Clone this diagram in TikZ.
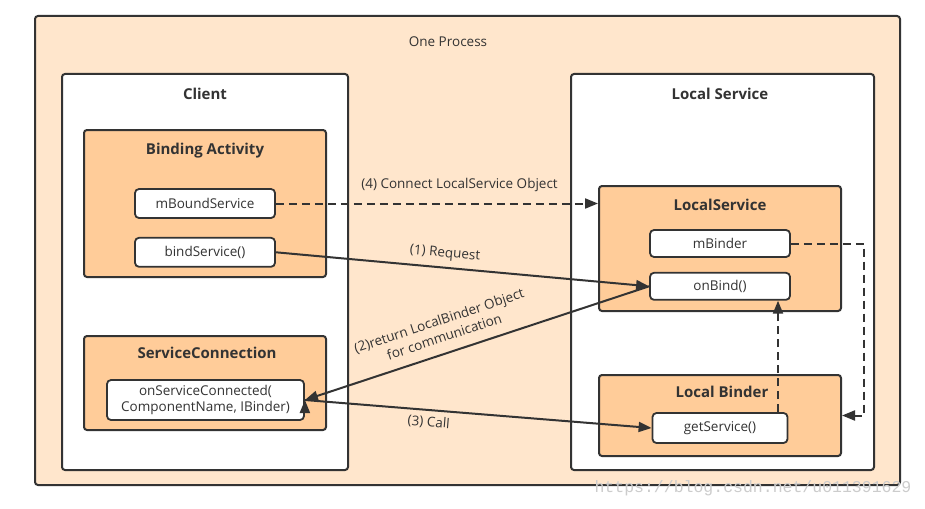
\documentclass[tikz,border=0pt]{standalone}
\usepackage{fontspec}
\setmainfont{Open Sans}
\newfontfamily\wmfont{Liberation Mono}
\usetikzlibrary{arrows.meta,positioning}

\definecolor{procfill}{HTML}{FFE6CC}
\definecolor{boxfill}{HTML}{FFCC99}
\definecolor{ink}{HTML}{333333}

\begin{document}
\begin{tikzpicture}[x=1pt,y=-1pt,>={Triangle[length=13pt,width=10pt]},color=ink,font=\fontsize{13.5}{16}\selectfont]
\tikzstyle{frame} = [rectangle, draw=ink, rounded corners=3pt, line width=2pt, inner sep=0pt]
\tikzstyle{group} = [frame, fill=boxfill]
\tikzstyle{item} = [frame, fill=white, rounded corners=4pt, line width=1.8pt, align=center]
\tikzstyle{title} = [font=\bfseries\fontsize{15}{18}\selectfont]
\tikzstyle{flow} = [->, draw=ink, line width=2pt]
\tikzstyle{back} = [flow, dash pattern=on 8pt off 5pt]
\useasboundingbox[fill=white] (0,0) rectangle (925,508);
% the process and its two parts
\node[frame, fill=procfill, minimum width=865pt, minimum height=469pt] (proc) at (467.5,250.5) {};
\node (procT) at (448,42) {One Process};
\node[frame, fill=white, minimum width=286pt, minimum height=396pt] (client) at (205,272) {};
\node[title] (clientT) at (205,94) {Client};
\node[frame, fill=white, minimum width=303pt, minimum height=396pt] (local) at (722.5,272) {};
\node[title] (localT) at (720,94) {Local Service};
% client side
\node[group, minimum width=242pt, minimum height=147pt] (binding) at (205,203.5) {};
\node[title] (bindingT) at (205,151) {Binding Activity};
\node[item, minimum width=140pt, minimum height=29pt] (mbound) at (205,203.5) {mBoundService};
\node[item, minimum width=140pt, minimum height=29pt, below=18pt of mbound] (bindsvc) {bindService()};
\node[group, minimum width=242pt, minimum height=94pt] (svcconn) at (205,383) {};
\node[title] (svcconnT) at (207,353) {ServiceConnection};
\node[item, minimum width=197pt, minimum height=40pt, font=\fontsize{13.5}{15.5}\selectfont] (onsc) at (205.5,400) {onServiceConnected(\\ComponentName, IBinder)};
% service side
\node[group, minimum width=242pt, minimum height=125pt] (lsvc) at (720,248.5) {};
\node[title] (lsvcT) at (720,205) {LocalService};
\node[item, minimum width=140pt, minimum height=27pt] (mbinder) at (720,243.5) {mBinder};
\node[item, minimum width=140pt, minimum height=27pt, below=14pt of mbinder] (onbind) {onBind()};
\node[group, minimum width=242pt, minimum height=81pt] (lbinder) at (720,415.5) {};
\node[title] (lbinderT) at (722,392) {Local Binder};
\node[item, minimum width=135pt, minimum height=30pt] (getsvc) at (720,428) {getService()};
\node[text=gray!40, font=\wmfont\fontsize{16.5}{16.5}\selectfont] (wm) at (753,488) {https://blog.csdn.net/u011391629};
% calls
\path[back] (mbound) edge node[pos=0.57, above=7pt]{(4) Connect LocalService Object} (lsvc.west |- mbound);
\path[flow] (bindsvc.east) edge node[pos=0.45, sloped, above=3pt]{(1) Request} (onbind.west)
            (onbind.west) edge node[pos=0.58, sloped, above=7pt, align=center, font=\fontsize{13.5}{17}\selectfont]{(2)return LocalBinder Object\\for communication} (onsc.east)
            (onsc.east) edge node[pos=0.36, sloped, below=2pt]{(3) Call} (getsvc.west);
\draw[back] (mbinder.east) -- ++(73,0) |- (lbinder.east);
\draw[back] ([xshift=58pt]getsvc.north) -- ([xshift=58pt]onbind.south);
\end{tikzpicture}
\end{document}
